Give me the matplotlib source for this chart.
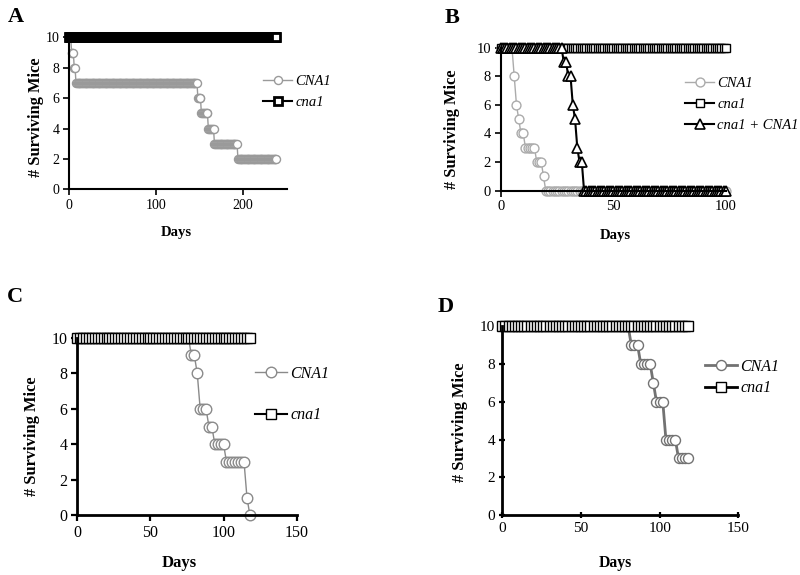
import numpy as np
import matplotlib.pyplot as plt

plt.rcParams['font.family'] = ['Liberation Serif', 'DejaVu Serif']

# observation days for each panel
a_days = np.arange(0, 239)
b_days = np.arange(0, 101)
c_days = np.arange(0, 119, 2)
d_days = np.arange(0, 119, 2)

# step changes: (day where level starts, surviving mice)
a_wt_day = [0, 3, 6, 8, 148, 152, 160, 167, 194]
a_wt_mice = [10, 9, 8, 7, 6, 5, 4, 3, 2]
a_mut_day = [0]
a_mut_mice = [10]

b_wt_day = [0, 6, 7, 8, 9, 11, 16, 19, 20]
b_wt_mice = [10, 8, 6, 5, 4, 3, 2, 1, 0]
b_mut_day = [0]
b_mut_mice = [10]
b_rec_day = [0, 28, 30, 32, 33, 34, 35, 37]
b_rec_mice = [10, 9, 8, 6, 5, 3, 2, 0]

c_wt_day = [0, 78, 82, 84, 90, 94, 102, 116, 118]
c_wt_mice = [10, 9, 8, 6, 5, 4, 3, 1, 0]
c_mut_day = [0]
c_mut_mice = [10]

d_wt_day = [0, 82, 88, 96, 98, 104, 112]
d_wt_mice = [10, 9, 8, 7, 6, 4, 3]
d_mut_day = [0]
d_mut_mice = [10]


def survivors(days, change_day, mice):
    idx = np.searchsorted(change_day, days, side='right') - 1
    return np.asarray(mice)[idx]


W, H = 800, 575
fig = plt.figure(figsize=(W / 100, H / 100), dpi=100)


def px_axes(x0, x1, y0, y1):
    # x0,x1 = left/right pixel, y0 = pixel of y=0, y1 = pixel of y=10
    return fig.add_axes([x0 / W, 1 - y0 / H, (x1 - x0) / W, (y0 - y1) / H])


def style(ax, xmax, xticks, tsize, spw, tdir='out'):
    ax.set_xlim(0, xmax)
    ax.set_ylim(0, 10)
    ax.set_xticks(xticks)
    ax.set_yticks(range(0, 11, 2))
    for s in ['top', 'right']:
        ax.spines[s].set_visible(False)
    for s in ['left', 'bottom']:
        ax.spines[s].set_linewidth(spw)
    ax.tick_params(direction=tdir, length=4, width=spw * 0.8,
                   labelsize=tsize, pad=3)


def legend(ax, x, y, size, gap):
    return ax.legend(loc='center left', bbox_to_anchor=(x / W, 1 - y / H),
                     bbox_transform=fig.transFigure, frameon=False,
                     borderpad=0, borderaxespad=0, handlelength=2.0,
                     handletextpad=0.2, numpoints=1, labelspacing=gap,
                     prop={'style': 'italic', 'size': size})


def labels(letter, lx, ly, yl, dl, ysize, dsize):
    fig.text(lx / W, 1 - ly / H, letter, fontsize=16, fontweight='bold',
             ha='left', va='center')
    fig.text(yl[0] / W, 1 - yl[1] / H, '# Surviving Mice', rotation=90,
             fontsize=ysize, fontweight='bold', ha='center', va='center')
    fig.text(dl[0] / W, 1 - dl[1] / H, 'Days', fontsize=dsize,
             fontweight='bold', ha='center', va='center')


# ---- A ----
ax = px_axes(69, 286.7, 189.3, 37.3)
ax.plot(a_days, survivors(a_days, a_wt_day, a_wt_mice), '-o', color='#9a9a9a',
        lw=1, ms=5.8, mfc='white', mec='#9a9a9a', mew=1, clip_on=False,
        label='CNA1')
ax.plot(a_days, survivors(a_days, a_mut_day, a_mut_mice), '-s', color='black',
        lw=1.5, ms=6.4, mfc='white', mec='black', mew=2, clip_on=False,
        label='cna1')
style(ax, 250, [0, 100, 200], 10, 1.5)
legend(ax, 263, 92, 10.5, 0.55)
labels('A', 8, 17, (36, 117.5), (176.7, 233), 11.8, 10.5)

# ---- B ----
ax = px_axes(500.7, 726, 190.7, 47.7)
ax.plot(b_days, survivors(b_days, b_wt_day, b_wt_mice), '-o', color='#ababab',
        lw=1, ms=6.4, mfc='white', mec='#ababab', mew=1, clip_on=False,
        label='CNA1')
ax.plot(b_days, survivors(b_days, b_mut_day, b_mut_mice), '-s', color='black',
        lw=1.5, ms=6.2, mfc='white', mec='black', mew=1, clip_on=False,
        label='cna1')
ax.plot(b_days, survivors(b_days, b_rec_day, b_rec_mice), '-^', color='black',
        lw=1.5, ms=7.2, mfc='white', mec='black', mew=1.2, clip_on=False,
        label='cna1 + CNA1')
style(ax, 100, [0, 50, 100], 10.5, 1.5)
legend(ax, 685, 104.5, 10.5, 0.55)
labels('B', 445, 18, (451.7, 129), (615, 235), 11.8, 10.5)

# ---- C ----
ax = px_axes(77.3, 296.7, 515.3, 337.7)
c_wt = survivors(c_days, c_wt_day, c_wt_mice)
ax.plot(c_days, c_wt, '-o', color='#8a8a8a', lw=1, ms=7.6, mfc='white',
        mec='#8a8a8a', mew=1, clip_on=False, markevery=list(c_wt < 10),
        label='CNA1')
ax.plot(c_days, survivors(c_days, c_mut_day, c_mut_mice), '-s', color='black',
        lw=1.5, ms=6.7, mfc='white', mec='black', mew=1, clip_on=False,
        label='cna1')
style(ax, 150, [0, 50, 100, 150], 11.5, 2)
legend(ax, 255, 394.7, 11.5, 1.6)
labels('C', 7, 297.5, (32, 436.7), (179, 562.7), 11.8, 12)

# ---- D ----
ax = px_axes(502.3, 738.3, 515, 326.3)
d_wt = survivors(d_days, d_wt_day, d_wt_mice)
ax.plot(d_days, d_wt, '-o', color='#727272', lw=2, ms=7.2, mfc='white',
        mec='#727272', mew=1, clip_on=False, markevery=list(d_wt < 10),
        label='CNA1')
ax.plot(d_days, survivors(d_days, d_mut_day, d_mut_mice), '-s', color='black',
        lw=2, ms=7.4, mfc='white', mec='black', mew=1, clip_on=False,
        label='cna1')
style(ax, 150, [0, 50, 100, 150], 11, 2, tdir='inout')
legend(ax, 705, 377.3, 11.5, 0.35)
labels('D', 438, 307.5, (460, 422.5), (615, 562.7), 11.8, 11.3)

fig.savefig('out.png', dpi=100)
